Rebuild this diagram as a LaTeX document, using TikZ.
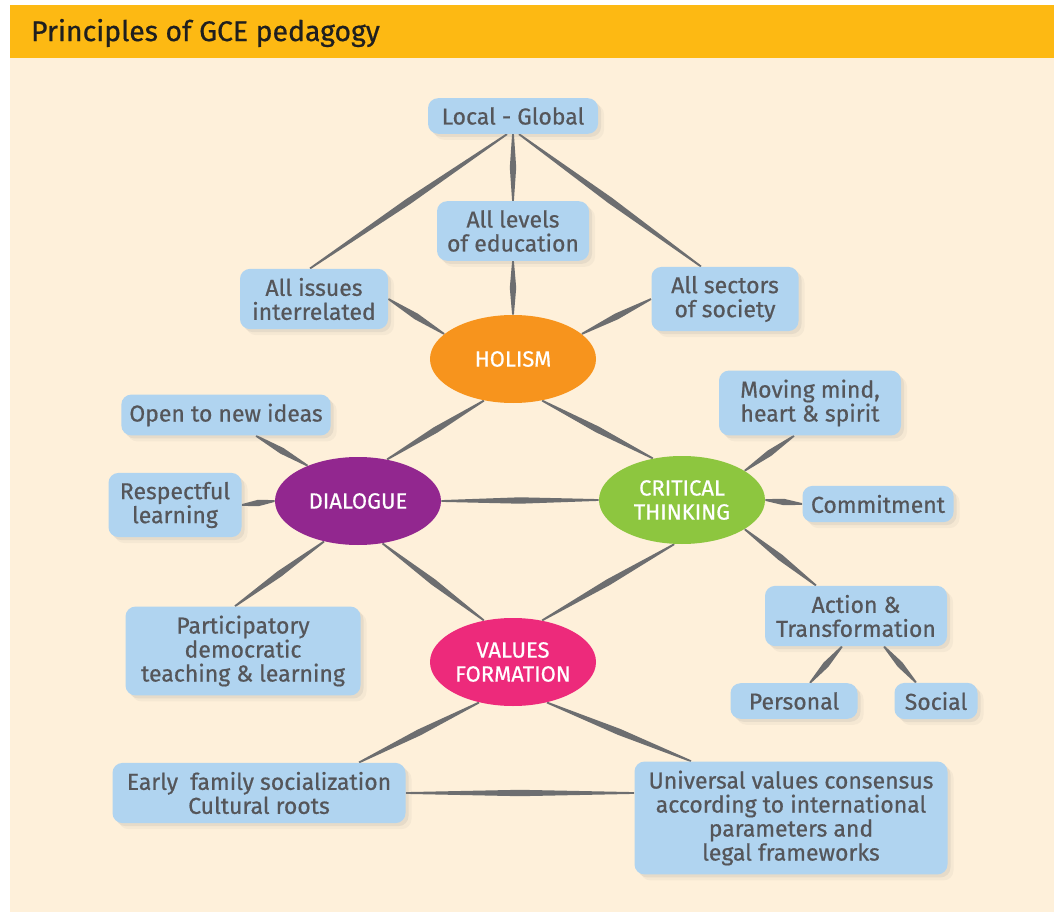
\documentclass[tikz,border=0pt]{standalone}
\usepackage{fontspec}
\setmainfont{Fira Sans}[FakeBold=0.6]
\usetikzlibrary{shapes.geometric,shadows,backgrounds,calc}
\definecolor{bandorange}{HTML}{FDB913}
\definecolor{cream}{HTML}{FEF0DA}
\definecolor{boxblue}{HTML}{B0D4F0}
\definecolor{txtgray}{HTML}{55565A}
\definecolor{linkgray}{HTML}{6D6E70}
\definecolor{holorange}{HTML}{F7941D}
\definecolor{dialpurple}{HTML}{92278F}
\definecolor{critgreen}{HTML}{8DC63F}
\definecolor{valpink}{HTML}{ED2A7B}

\begin{document}
\begin{tikzpicture}[x=0.5pt,y=-0.5pt,
  box/.style={fill=boxblue,rounded corners=5pt,align=center,text=txtgray,
    font=\fontsize{11.5}{12}\selectfont,inner xsep=4pt,inner ysep=4.5pt,
    drop shadow={shadow xshift=1.5pt,shadow yshift=-1.5pt,opacity=0.12},
    drop shadow={shadow xshift=3pt,shadow yshift=-3pt,opacity=0.07}},
  hub/.style={ellipse,minimum width=83pt,minimum height=44pt,inner sep=0pt,
    text=white,align=center,font=\fontsize{11}{12}\selectfont},
  spindle/.style={to path={let \p1=(\tikztostart),\p2=(\tikztotarget),
    \n1={atan2(\y2-\y1,\x2-\x1)+90} in
    ($(\p1)+(\n1:0.45pt)$) -- ($(\p1)!0.5!(\p2)+(\n1:1.6pt)$) -- ($(\p2)+(\n1:0.45pt)$)
    -- ($(\p2)-(\n1:0.45pt)$) -- ($(\p1)!0.5!(\p2)-(\n1:1.6pt)$) -- ($(\p1)-(\n1:0.45pt)$) -- cycle}},
  link/.style={fill=linkgray}]
\useasboundingbox (0,0) rectangle (1054,914);
\begin{scope}[on background layer]
\fill[bandorange] (10,5) rectangle (1054,58);
\fill[cream] (10,58) rectangle (1054,912);
\end{scope}
\node[anchor=west,text=black!88,font=\fontsize{14.2}{15}\selectfont] (title) at (24,33) {Principles of GCE pedagogy};

\node[box,minimum width=85pt] (lg) at (513,116) {Local - Global};
\node[box,minimum width=76pt] (lev) at (513,231) {All levels\\of education};
\node[box,minimum width=74pt] (iss) at (314,299) {All issues\\interrelated};
\node[box,minimum width=73.5pt] (sec) at (725,299) {All sectors\\of society};
\node[hub,fill=holorange] (hol) at (513,359) {HOLISM};
\node[box,minimum width=103pt] (open) at (226,415) {Open to new ideas};
\node[box,minimum width=91pt] (mov) at (810,403) {Moving mind,\\heart \& spirit};
\node[box,minimum width=66.5pt] (resp) at (175,505) {Respectful\\learning};
\node[hub,fill=dialpurple] (dia) at (358,501) {DIALOGUE};
\node[hub,fill=critgreen] (crit) at (682,500) {CRITICAL\\THINKING};
\node[box,minimum width=75.5pt] (com) at (878,504) {Commitment};
\node[box,minimum width=91pt] (act) at (856,616) {Action \&\\Transformation};
\node[box,minimum width=63.5pt] (pers) at (794,701) {Personal};
\node[box,minimum width=41.5pt] (soc) at (936,701) {Social};
\node[box,minimum width=117.5pt] (part) at (243,651) {Participatory\\democratic\\teaching \& learning};
\node[hub,fill=valpink] (val) at (513,662) {VALUES\\FORMATION};
\node[box,minimum width=146.5pt] (early) at (259,793) {Early~ family socialization\\Cultural roots};
\node[box,minimum width=156.5pt] (univ) at (791,818) {Universal values consensus\\according to international\\parameters and\\legal frameworks};

\begin{scope}[on background layer]
\fill[link] ([xshift=-3pt]lg.south) to[spindle] ([xshift=-2pt]iss.north);
\fill[link] (lg.south) to[spindle] (lev.north);
\fill[link] ([xshift=3pt]lg.south) to[spindle] ([xshift=-12pt]sec.north);
\fill[link] (lev.south) to[spindle] (hol.north);
\fill[link] (iss.east) to[spindle] (hol.160);
\fill[link] (sec.west) to[spindle] (hol.20);
\fill[link] (hol.-125) to[spindle] (dia.55);
\fill[link] (hol.-55) to[spindle] (crit.125);
\fill[link] (dia.east) to[spindle] (crit.west);
\fill[link] (dia.145) to[spindle] ([xshift=15pt]open.south);
\fill[link] (dia.west) to[spindle] (resp.east);
\fill[link] (dia.-130) to[spindle] ([xshift=-4pt]part.north);
\fill[link] (dia.-60) to[spindle] (val.125);
\fill[link] (crit.-100) to[spindle] (val.55);
\fill[link] (crit.25) to[spindle] ([xshift=-8pt]mov.south);
\fill[link] (crit.east) to[spindle] (com.west);
\fill[link] (crit.-25) to[spindle] ([xshift=-20pt]act.north);
\fill[link] ([xshift=-7pt]act.south) to[spindle] ([xshift=8pt]pers.north);
\fill[link] ([xshift=14pt]act.south) to[spindle] ([xshift=-10pt]soc.north);
\fill[link] (val.-130) to[spindle] ([xshift=50pt]early.north);
\fill[link] (val.-50) to[spindle] ([xshift=-50pt]univ.north);
\fill[link] (early.east) to[spindle] (early.east -| univ.west);
\end{scope}
\end{tikzpicture}
\end{document}
